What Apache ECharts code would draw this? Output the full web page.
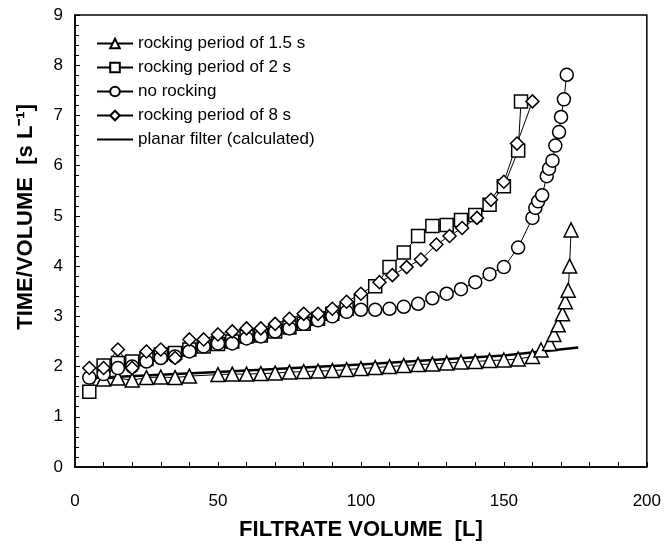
<!DOCTYPE html>
<html>
<head>
<meta charset="utf-8">
<script src="https://cdn.jsdelivr.net/npm/echarts@6/dist/echarts.min.js"></script>
<style>
html,body{margin:0;padding:0;background:#fff;}
#chart{width:664px;height:546px;}
</style>
</head>
<body>
<div id="chart"></div>
<script>
// ---- data ----
const seriesNames = ['rocking period of 1.5 s', 'rocking period of 2 s', 'no rocking', 'rocking period of 8 s', 'planar filter (calculated)'];

const triX = [10,15,20,25,30,35,40,50,55,60,65,70,75,80,85,90,95,100,105,110,115,120,125,130,135,140,145,150,155,160,163,166,167.5,169,170.5,171.5,172.5,173,173.5];
const triY = [1.75,1.77,1.73,1.78,1.79,1.78,1.81,1.84,1.85,1.85,1.86,1.87,1.89,1.90,1.91,1.92,1.94,1.96,1.98,2.00,2.02,2.04,2.05,2.07,2.09,2.10,2.12,2.13,2.15,2.20,2.33,2.46,2.64,2.83,3.05,3.29,3.52,4.00,4.72];

const sqX = [5,10,15,20,25,30,35,40,45,50,55,60,65,70,75,80,85,90,95,100,105,110,115,120,125,130,135,140,145,150,155,156];
const sqY = [1.50,2.02,2.07,2.10,2.15,2.24,2.27,2.34,2.40,2.45,2.50,2.60,2.62,2.70,2.78,2.85,2.95,3.05,3.15,3.30,3.60,3.98,4.27,4.60,4.80,4.82,4.92,5.02,5.22,5.59,6.30,7.28];

const cirX = [5,10,15,20,25,30,35,40,45,50,55,60,65,70,75,80,85,90,95,100,105,110,115,120,125,130,135,140,145,150,155,160,161,162,163.4,165,165.8,167,168,169.3,170,171,172];
const cirY = [1.78,1.85,1.97,2.00,2.10,2.17,2.20,2.30,2.40,2.46,2.46,2.56,2.60,2.70,2.76,2.85,2.92,3.00,3.09,3.13,3.13,3.15,3.19,3.25,3.36,3.45,3.54,3.68,3.84,3.98,4.37,4.96,5.16,5.29,5.41,5.79,5.94,6.10,6.40,6.67,6.97,7.32,7.81];

const diaX = [5,10,15,20,25,30,35,40,45,50,55,60,65,70,75,80,85,90,95,100,106.5,111,116,121,126.4,131,135.4,140.6,145.5,150,154.6,160];
const diaY = [1.97,1.97,2.34,1.97,2.30,2.34,2.17,2.54,2.54,2.64,2.70,2.76,2.76,2.85,2.95,3.05,3.05,3.15,3.29,3.45,3.68,3.82,3.98,4.13,4.43,4.60,4.76,4.96,5.32,5.68,6.44,7.28];

const planX = [6,50,100,150,176];
const planY = [1.77,1.89,2.04,2.22,2.38];

const xTicks = [0,50,100,150,200];
const yTicks = [0,1,2,3,4,5,6,7,8,9];

function zip(xs, ys){ return xs.map((x,i)=>[x, ys[i]]); }

const FONT = 'Liberation Sans, Arial, sans-serif';

const chart = echarts.init(document.getElementById('chart'), null, {renderer:'canvas'});

function markSeries(name, xs, ys, symbol, size){
  return {
    name: name, type: 'line', data: zip(xs, ys),
    symbol: symbol, symbolSize: size, showSymbol: true,
    lineStyle: {color:'#000', width:1},
    itemStyle: {color:'#fff', borderColor:'#000', borderWidth:1.5},
    emphasis: {disabled:true},
    animation: false
  };
}

const option = {
  backgroundColor: '#fff',
  animation: false,
  grid: {left:75, right:16, top:15, bottom:74, show:true, borderColor:'#000', borderWidth:1.5, backgroundColor:'transparent'},
  legend: {
    left: 91, top: 30, orient: 'vertical',
    itemWidth: 36, itemHeight: 12, itemGap: 7,
    textStyle: {fontFamily: FONT, fontSize: 17, color:'#000'},
    data: [
      {name: seriesNames[0]}, {name: seriesNames[1]}, {name: seriesNames[2]}, {name: seriesNames[3]},
      {name: seriesNames[4], itemStyle: {opacity: 0}}
    ]
  },
  xAxis: {
    type: 'value', min: 0, max: 200, interval: 50,
    name: 'FILTRATE VOLUME  [L]', nameLocation: 'middle', nameGap: 52,
    nameTextStyle: {fontFamily: FONT, fontSize: 22, fontWeight: 'bold', color:'#000'},
    axisLine: {show:true, onZero:false, lineStyle:{color:'#000', width:1.5}},
    axisTick: {show:true, inside:true, length:5, lineStyle:{color:'#000'}},
    minorTick: {show:true, splitNumber:5, length:5, lineStyle:{color:'#000'}},
    splitLine: {show:false},
    axisLabel: {fontFamily: FONT, fontSize: 17, color:'#000', margin: 26,
      formatter: v => xTicks.includes(v) ? String(v) : ''}
  },
  yAxis: {
    type: 'value', min: 0, max: 9, interval: 1,
    axisLine: {show:true, onZero:false, lineStyle:{color:'#000', width:1.5}},
    axisTick: {show:true, inside:true, length:5, lineStyle:{color:'#000'}},
    minorTick: {show:true, splitNumber:5, length:4, lineStyle:{color:'#000'}},
    splitLine: {show:false},
    axisLabel: {fontFamily: FONT, fontSize: 17, color:'#000', margin: 12,
      formatter: v => yTicks.includes(v) ? String(v) : ''}
  },
  graphic: [{
    type: 'text', left: 15, top: 104, rotation: Math.PI/2,
    style: {text: 'TIME/VOLUME  [s L\u207B\u00B9]', font: 'bold 22px ' + FONT, fill:'#000'}
  }],
  series: [
    markSeries(seriesNames[0], triX, triY, 'triangle', 14),
    markSeries(seriesNames[1], sqX, sqY, 'rect', 13),
    markSeries(seriesNames[2], cirX, cirY, 'circle', 13),
    markSeries(seriesNames[3], diaX, diaY, 'diamond', 13),
    {
      name: seriesNames[4], type:'line', data: zip(planX, planY),
      showSymbol:false, symbol:'none',
      lineStyle:{color:'#000', width:2.5}, itemStyle:{color:'#000'},
      emphasis:{disabled:true}, z: 3
    }
  ]
};
chart.setOption(option);
</script>
</body>
</html>
